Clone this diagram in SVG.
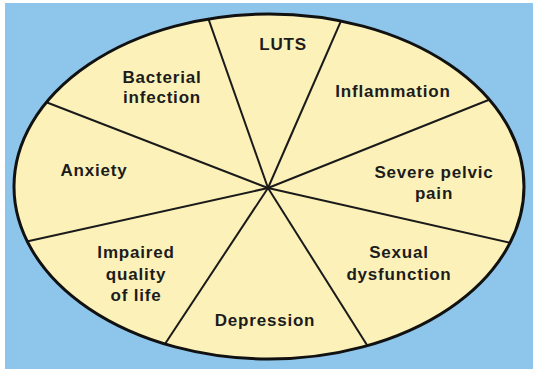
<svg xmlns="http://www.w3.org/2000/svg" width="533" height="371" viewBox="0 0 533 371">
<style>
.lbl{font-family:"Liberation Sans",Arial,sans-serif;font-weight:bold;font-size:17px;fill:#1c1c1c;text-anchor:middle;letter-spacing:0.8px}
.div{stroke:#1a1a1a;stroke-width:2;fill:none}
</style>
<defs>
<clipPath id="ec"><ellipse cx="269" cy="186.5" rx="255" ry="172.5"/></clipPath>
</defs>
<rect x="0" y="0" width="533" height="371" fill="#ffffff"/>
<rect x="5" y="3" width="528" height="366" fill="#8ec5eb"/>
<g id="oval">
<ellipse cx="269" cy="186.5" rx="255" ry="172.5" fill="#fcf2b9"/>
</g>
<g id="connectors" clip-path="url(#ec)">
<line class="div" x1="268" y1="188" x2="206" y2="12"/>
<line class="div" x1="268" y1="188" x2="344" y2="14"/>
<line class="div" x1="268" y1="188" x2="496" y2="97"/>
<line class="div" x1="268" y1="188" x2="520" y2="245"/>
<line class="div" x1="268" y1="188" x2="372" y2="353"/>
<line class="div" x1="268" y1="188" x2="159" y2="353"/>
<line class="div" x1="268" y1="188" x2="20" y2="243"/>
<line class="div" x1="268" y1="188" x2="38" y2="99"/>
</g>
<ellipse cx="269" cy="186.5" rx="255" ry="172.5" fill="none" stroke="#111" stroke-width="3"/>
<g id="luts"><text class="lbl" x="283" y="50">LUTS</text></g>
<g id="inflammation"><text class="lbl" x="393" y="97">Inflammation</text></g>
<g id="severe-pelvic-pain"><text class="lbl" x="434" y="178">Severe pelvic</text><text class="lbl" x="434" y="199">pain</text></g>
<g id="sexual-dysfunction"><text class="lbl" x="399" y="258">Sexual</text><text class="lbl" x="399" y="280">dysfunction</text></g>
<g id="depression"><text class="lbl" x="265" y="326">Depression</text></g>
<g id="impaired-quality"><text class="lbl" x="136" y="258">Impaired</text><text class="lbl" x="136" y="280">quality</text><text class="lbl" x="136" y="301">of life</text></g>
<g id="anxiety"><text class="lbl" x="94" y="176">Anxiety</text></g>
<g id="bacterial-infection"><text class="lbl" x="162" y="83">Bacterial</text><text class="lbl" x="162" y="103">infection</text></g>
</svg>
